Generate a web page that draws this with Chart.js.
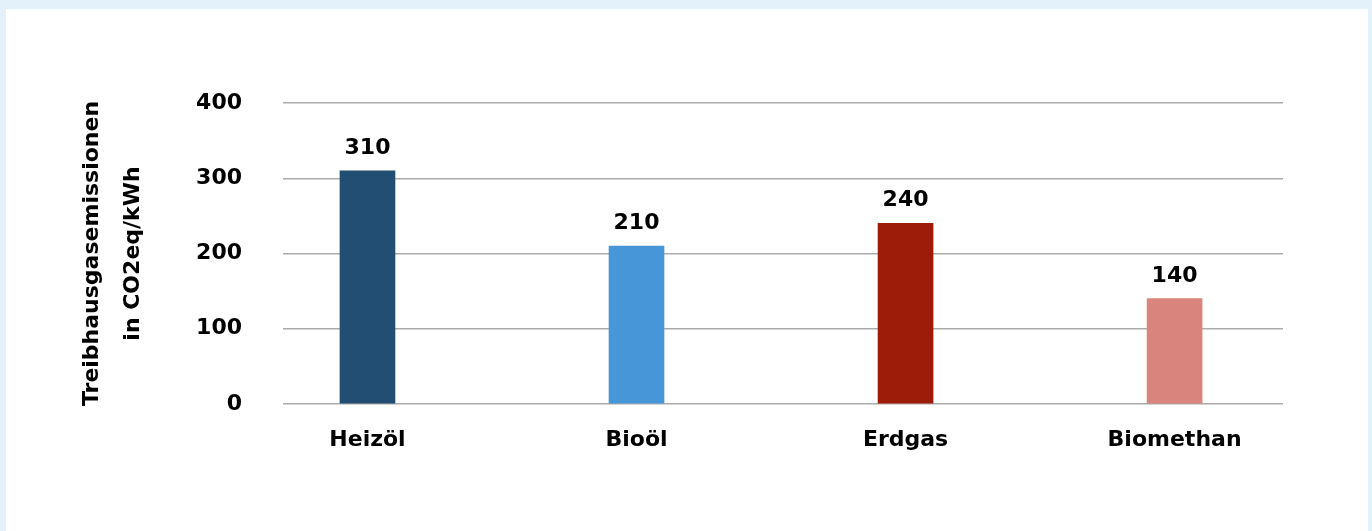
<!DOCTYPE html>
<html>
<head>
<meta charset="utf-8">
<script src="https://cdn.jsdelivr.net/npm/chart.js@4"></script>
<style>
    html, body { margin: 0; padding: 0; }
    body { width: 1372px; height: 531px; background: #e3f2fa; position: relative; overflow: hidden; }
    #panel { position: absolute; left: 6px; top: 9px; width: 1362px; height: 522px; background: #ffffff; }
    #wrap { position: absolute; left: 0; top: 0; width: 1372px; height: 531px; }
</style>
</head>
<body>
<div id="panel"></div>
<div id="wrap"><canvas id="myChart" width="1372" height="531"></canvas></div>
<script>

let categories = ["Heizöl", "Bioöl", "Erdgas", "Biomethan"];
let emissions = [310, 210, 240, 140];
let barColors = ["#224e73", "#4796d8", "#9c1c09", "#d9847d"];
let yTicks = [0, 100, 200, 300, 400];
let yTitle = ["Treibhausgasemissionen", "in CO2eq/kWh"];

const FONT = "'DejaVu Sans', sans-serif";

//
// value labels above each bar
//
const valueLabels = {
    id: "valueLabels",
    afterDatasetsDraw(chart) {
        const ctx = chart.ctx;
        const meta = chart.getDatasetMeta(0);
        ctx.save();
        ctx.font = "bold 22px " + FONT;
        ctx.fillStyle = "#000000";
        ctx.textAlign = "center";
        ctx.textBaseline = "alphabetic";
        meta.data.forEach((bar, i) => {
            ctx.fillText(String(emissions[i]), bar.x, bar.y - 17);
        });
        ctx.restore();
    }
};

document.addEventListener("DOMContentLoaded", function() {
    const ctx = document.getElementById("myChart").getContext("2d");

    new Chart(ctx, {
        type: "bar",
        data: {
            datasets: [{
                data: emissions.map((v, i) => ({ x: i, y: v })),
                backgroundColor: barColors,
                borderWidth: 0,
                barThickness: 55
            }]
        },
        options: {
            responsive: false,
            animation: false,
            devicePixelRatio: 1,
            layout: {
                padding: { top: 103, right: 89, bottom: 0, left: 0 }
            },
            plugins: {
                legend: { display: false },
                tooltip: { enabled: false }
            },
            scales: {
                x: {
                    type: "linear",
                    offset: false,
                    min: -0.314,
                    max: 3.403,
                    afterBuildTicks: function(axis) {
                        axis.ticks = categories.map((c, i) => ({ value: i }));
                    },
                    afterFit: function(axis) {
                        axis.height = 127;
                    },
                    grid: { display: false, drawTicks: false },
                    border: { display: false },
                    ticks: {
                        autoSkip: false,
                        maxRotation: 0,
                        padding: 23,
                        color: "#000000",
                        font: { family: FONT, size: 22, weight: "bold" },
                        callback: function(value) {
                            return categories[value];
                        }
                    }
                },
                y: {
                    min: 0,
                    max: 400,
                    afterBuildTicks: function(axis) {
                        axis.ticks = yTicks.map(v => ({ value: v }));
                    },
                    afterFit: function(axis) {
                        axis.width = 283;
                    },
                    grid: { color: "#ababab", lineWidth: 1.5, drawTicks: false },
                    border: { display: false },
                    ticks: {
                        padding: 41,
                        color: "#000000",
                        font: { family: FONT, size: 22, weight: "bold" }
                    },
                    title: {
                        display: true,
                        text: yTitle,
                        color: "#000000",
                        padding: { top: 71, bottom: 0 },
                        font: { family: FONT, size: 22, weight: "bold", lineHeight: 1.9 }
                    }
                }
            }
        },
        plugins: [valueLabels]
    });
});
</script>
</body>
</html>
